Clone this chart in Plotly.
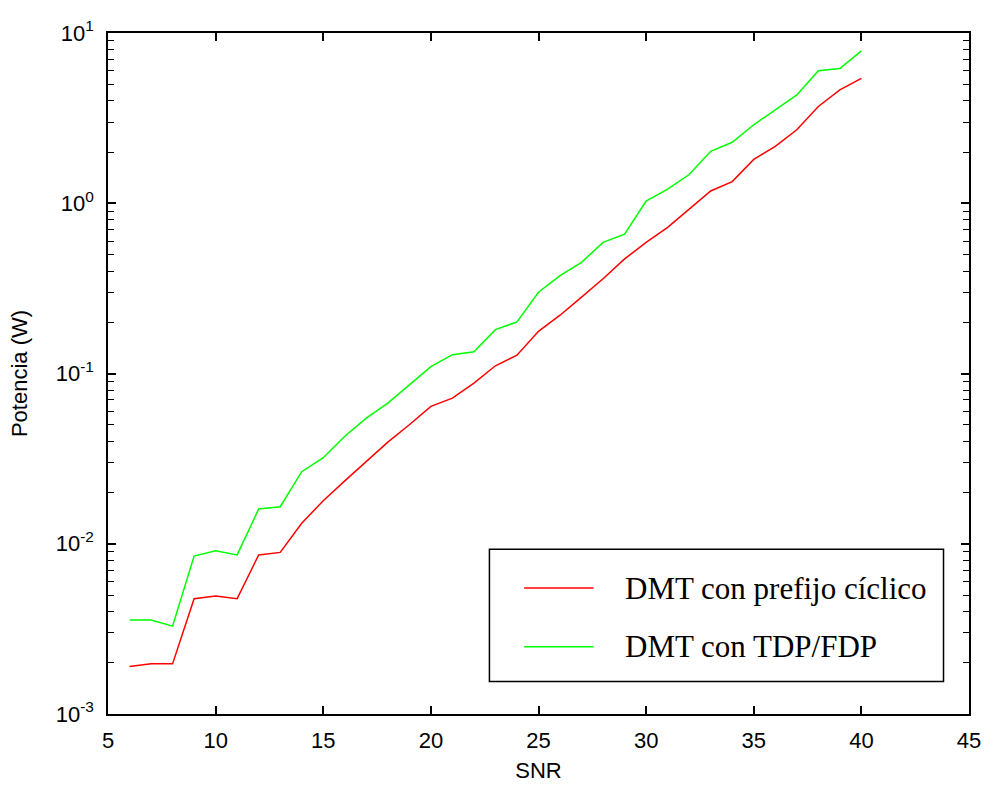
import plotly.graph_objects as go

snr = list(range(6, 41))
pot_cp = [0.0019, 0.00197, 0.00197, 0.00476, 0.00493, 0.00476, 0.0086, 0.0089,
          0.0132, 0.0179, 0.0234, 0.0306, 0.0395, 0.050, 0.0641, 0.0717, 0.0877,
          0.111, 0.128, 0.177, 0.22, 0.281, 0.36, 0.471, 0.589, 0.721, 0.923,
          1.18, 1.34, 1.81, 2.16, 2.70, 3.70, 4.63, 5.42]
pot_tdp = [0.00356, 0.00356, 0.00328, 0.00846, 0.0091, 0.0086, 0.0160, 0.0165,
           0.0265, 0.032, 0.0428, 0.0547, 0.067, 0.0857, 0.1096, 0.129, 0.134,
           0.181, 0.201, 0.30, 0.376, 0.45, 0.589, 0.659, 1.03, 1.21, 1.475,
           2.02, 2.28, 2.89, 3.54, 4.33, 6.0, 6.19, 7.85]

names = ["DMT con prefijo cíclico", "DMT con TDP/FDP"]
colors = ["#FF0000", "#00FF00"]

x_ticks = [5, 10, 15, 20, 25, 30, 35, 40, 45]
y_tickvals = [0.001, 0.01, 0.1, 1, 10]
y_ticktext = ["10<sup>-3</sup>", "10<sup>-2</sup>", "10<sup>-1</sup>", "10<sup>0</sup>", "10<sup>1</sup>"]

SANS = "Liberation Sans, Arial, sans-serif"

fig = go.Figure()
for ys, nm, c in zip([pot_cp, pot_tdp], names, colors):
    fig.add_trace(go.Scatter(x=snr, y=ys, mode="lines", name=nm,
                             line=dict(color=c, width=1.5), showlegend=False))

axis_common = dict(showline=True, linecolor="black", linewidth=1.5, mirror="ticks",
                   ticks="inside", tickcolor="black", tickwidth=1.5, ticklen=8,
                   showgrid=False, zeroline=False,
                   tickfont=dict(family=SANS, size=22, color="black"))

fig.update_xaxes(range=[5, 45], tickvals=x_ticks, ticktext=[str(v) for v in x_ticks],
                 ticklabelstandoff=6,
                 title=dict(text="SNR", standoff=10,
                            font=dict(family=SANS, size=22, color="black")),
                 **axis_common)
fig.update_yaxes(type="log", range=[-3, 1], tickvals=y_tickvals, ticktext=y_ticktext,
                 ticklabelstandoff=8,
                 minor=dict(ticks="inside", ticklen=6, tickwidth=1.2, tickcolor="black", dtick="D1", showgrid=False),
                 title=dict(text="Potencia (W)", standoff=22,
                            font=dict(family=SANS, size=22, color="black")),
                 **axis_common)

# manual legend box (paper coordinates)
fig.add_shape(type="rect", xref="paper", yref="paper", x0=0.443, x1=0.9704, y0=0.0477, y1=0.2419,
              line=dict(color="black", width=1.5), fillcolor="white", layer="above")
leg_y = [0.185, 0.0988]
for ly, nm, c in zip(leg_y, names, colors):
    fig.add_shape(type="line", xref="paper", yref="paper", x0=0.4833, x1=0.5639, y0=ly, y1=ly,
                  line=dict(color=c, width=1.5), layer="above")
    fig.add_annotation(xref="paper", yref="paper", x=0.5985, y=ly, xanchor="left", yanchor="middle",
                       text=nm, showarrow=False,
                       font=dict(family="Liberation Serif, Times New Roman, serif", size=31, color="black"))

fig.update_layout(width=993, height=791, margin=dict(l=108, r=16, t=33, b=73),
                  paper_bgcolor="white", plot_bgcolor="white")
fig.write_html("out.html")
